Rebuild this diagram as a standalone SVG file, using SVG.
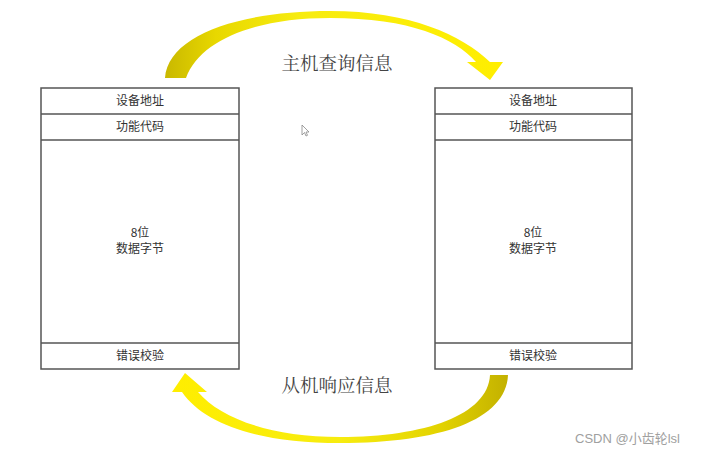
<svg xmlns="http://www.w3.org/2000/svg" width="724" height="456" viewBox="0 0 724 456">
<defs>
<style>
.box{fill:#fff;stroke:#555;stroke-width:1.5}
.ln{stroke:#555;stroke-width:1.5}
.t{font-family:"Noto Sans CJK SC","Liberation Sans",sans-serif;font-size:12px;fill:#333;text-anchor:middle}
.lab{font-family:"Noto Serif CJK SC","Noto Sans CJK SC",serif;font-size:18.5px;fill:#444;text-anchor:middle}
.wm{font-family:"Liberation Sans","Noto Sans CJK SC",sans-serif;font-size:13px;fill:#a0a0a0}
</style>
<linearGradient id="gTop" x1="165" y1="0" x2="505" y2="0" gradientUnits="userSpaceOnUse">
<stop offset="0" stop-color="#c9b800"/>
<stop offset="0.15" stop-color="#e8d800"/>
<stop offset="0.4" stop-color="#f7ec10"/>
<stop offset="1" stop-color="#ffee00"/>
</linearGradient>
<linearGradient id="gBot" x1="510" y1="0" x2="170" y2="0" gradientUnits="userSpaceOnUse">
<stop offset="0" stop-color="#c2b000"/>
<stop offset="0.2" stop-color="#e2d200"/>
<stop offset="0.5" stop-color="#f7ec10"/>
<stop offset="1" stop-color="#ffee00"/>
</linearGradient>
</defs>
<rect width="724" height="456" fill="#fff"/>
<g id="connectors">
<path id="arrow-query" fill="url(#gTop)" d="M165,78 C168,35 240,11 330,11 C410,11 462,35 490,62 L503,62 L490,80 L467,62 L476,62 C455,38 410,18 330,18 C255,18 200,40 186,78 Z"/>
<path id="arrow-response" fill="url(#gBot)" d="M508,375 C506,420 440,443 340,443 C260,443 205,425 182,392 L172,392 L185,373 L207,392 L198,392 C220,418 270,437 340,437 C425,437 488,415 490,375 Z"/>
<text class="lab" x="337" y="70">主机查询信息</text>
<text class="lab" x="337" y="392">从机响应信息</text>
</g>
<g id="master">
<rect class="box" x="41" y="88" width="198" height="281"/>
<line class="ln" x1="41" y1="114" x2="239" y2="114"/>
<line class="ln" x1="41" y1="140" x2="239" y2="140"/>
<line class="ln" x1="41" y1="343" x2="239" y2="343"/>
<text class="t" x="140" y="105">设备地址</text>
<text class="t" x="140" y="131">功能代码</text>
<text class="t" x="140" y="237">8位</text>
<text class="t" x="140" y="253">数据字节</text>
<text class="t" x="140" y="360">错误校验</text>
</g>
<g id="slave">
<rect class="box" x="435" y="88" width="197" height="281"/>
<line class="ln" x1="435" y1="114" x2="632" y2="114"/>
<line class="ln" x1="435" y1="140" x2="632" y2="140"/>
<line class="ln" x1="435" y1="343" x2="632" y2="343"/>
<text class="t" x="533" y="105">设备地址</text>
<text class="t" x="533" y="131">功能代码</text>
<text class="t" x="533" y="237">8位</text>
<text class="t" x="533" y="253">数据字节</text>
<text class="t" x="533" y="360">错误校验</text>
</g>
<path d="M302,125 L302,135 L304.5,132.5 L306,136 L307.5,135.3 L306,132 L309,132 Z" fill="#fff" stroke="#888" stroke-width="0.8"/>
<text class="wm" x="575" y="443">CSDN @小齿轮lsl</text>
</svg>
